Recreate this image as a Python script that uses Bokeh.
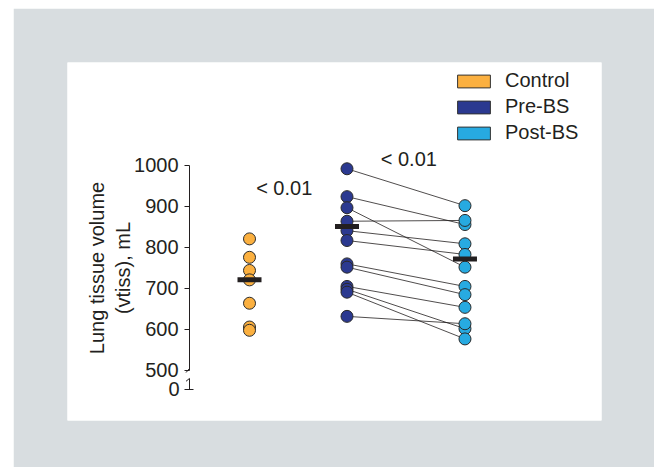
from bokeh.plotting import figure
from bokeh.models import (LinearAxis, Range1d, FixedTicker, Legend, LegendItem,
                          ColumnDataSource, Spacer)
from bokeh.layouts import row, column
from bokeh.core.properties import value
from bokeh.embed import file_html
from bokeh.resources import INLINE

# ---------------- data ----------------
groups = ["Control", "Pre-BS", "Post-BS"]
control = [821, 776, 744, 721, 664, 606, 598]
pre_bs = [992, 924, 897, 864, 841, 817, 760, 752, 705, 698, 691, 632]
post_bs = [902, 856, 752, 866, 809, 783, 705, 685, 654, 602, 577, 614]
group_medians = [721, 851, 772]
y_ticks = [500, 600, 700, 800, 900, 1000]
p_labels = ["< 0.01", "< 0.01"]

# ---------------- layout / style constants ----------------
X_POS = [1.0, 2.0, 3.21]          # horizontal placement of the three groups
COLORS = ["#FBB040", "#2B3990", "#27AAE1"]
BG = "#D8DDE0"
INK = "#231F20"
FONT = "Liberation Sans"
FS = "20px"

p = figure(width=641, height=459, output_backend="svg", toolbar_location=None,
           x_range=Range1d(-0.8667, 4.6103), y_range=Range1d(378.0, 1251.2),
           x_axis_location=None, y_axis_location=None,
           min_border_left=54, min_border_right=53, min_border_top=54,
           min_border_bottom=47)
p.border_fill_color = BG
p.background_fill_color = "white"
p.outline_line_color = None
p.xgrid.visible = False
p.ygrid.visible = False

AX_X = 0.385
p.extra_y_ranges = {"stub": Range1d(378.0 - 453.7, 1251.2 - 453.7)}

# main y axis (500 - 1000)
yax = LinearAxis(fixed_location=AX_X, bounds=(500, 1000),
                 ticker=FixedTicker(ticks=y_ticks),
                 axis_label="Lung tissue volume\n(vtiss), mL")
# stub axis showing 0
yax0 = LinearAxis(fixed_location=AX_X, y_range_name="stub", bounds=(0, 27),
                  ticker=FixedTicker(ticks=[0]))
for ax in (yax, yax0):
    ax.axis_line_color = INK
    ax.axis_line_width = 1
    ax.major_tick_line_color = INK
    ax.major_tick_out = 5
    ax.major_tick_in = 0
    ax.minor_tick_line_color = None
    ax.major_label_text_font = FONT
    ax.major_label_text_font_size = FS
    ax.major_label_text_color = INK
    ax.major_label_standoff = 6
yax0.major_tick_in = 4
yax0.major_label_standoff = 5
yax.axis_label_text_font = FONT
yax.axis_label_text_font_size = FS
yax.axis_label_text_font_style = "normal"
yax.axis_label_text_color = INK
yax.axis_label_standoff = -3
p.add_layout(yax, "left")
p.add_layout(yax0, "left")

# axis break slashes
dx = 3.5 / 97.5
p.segment(x0=[AX_X], y0=[505], x1=[AX_X - dx], y1=[495], line_color=INK, line_width=1)
p.segment(x0=[AX_X], y0=[27], x1=[AX_X - dx], y1=[20], line_color=INK, line_width=1,
          y_range_name="stub")

# paired lines pre -> post
xs = [[X_POS[1], X_POS[2]] for _ in pre_bs]
ys = [[a, b] for a, b in zip(pre_bs, post_bs)]
p.multi_line(xs=xs, ys=ys, line_color=INK, line_width=0.8)

# points
series = [control, pre_bs, post_bs]
for i, vals in enumerate(series):
    src = ColumnDataSource(dict(x=[X_POS[i]] * len(vals), y=vals))
    p.scatter("x", "y", source=src, size=12, fill_color=COLORS[i],
              line_color="#2a2a2a", line_width=1)

# median bars
p.rect(x=X_POS, y=group_medians, width=24, height=5, width_units="screen",
       height_units="screen", fill_color=INK, line_color=None)

# p-value texts
p.text(x=[1.356, 2.634], y=[945, 1015], text=p_labels, text_font=value(FONT),
       text_font_size=FS, text_color=INK, text_align="center",
       text_baseline="middle")

# legend proxies (no visible data; only used for the legend swatches)
nan = float("nan")
items = []
for g, c in zip(groups, COLORS):
    r = p.quad(left=[nan], right=[nan], top=[nan], bottom=[nan], fill_color=c,
               line_color="#333333", line_width=1)
    items.append(LegendItem(label=g, renderers=[r]))
leg = Legend(items=items, location=(386, 276), glyph_width=41, glyph_height=16,
             label_standoff=11, spacing=3, padding=0, margin=0,
             label_text_font=FONT, label_text_font_size=FS,
             label_text_color=INK, background_fill_alpha=0,
             border_line_alpha=0)
p.add_layout(leg, "center")

layout = column(Spacer(height=8), row(Spacer(width=13), p))
open("out.html", "w").write(file_html(layout, INLINE))
